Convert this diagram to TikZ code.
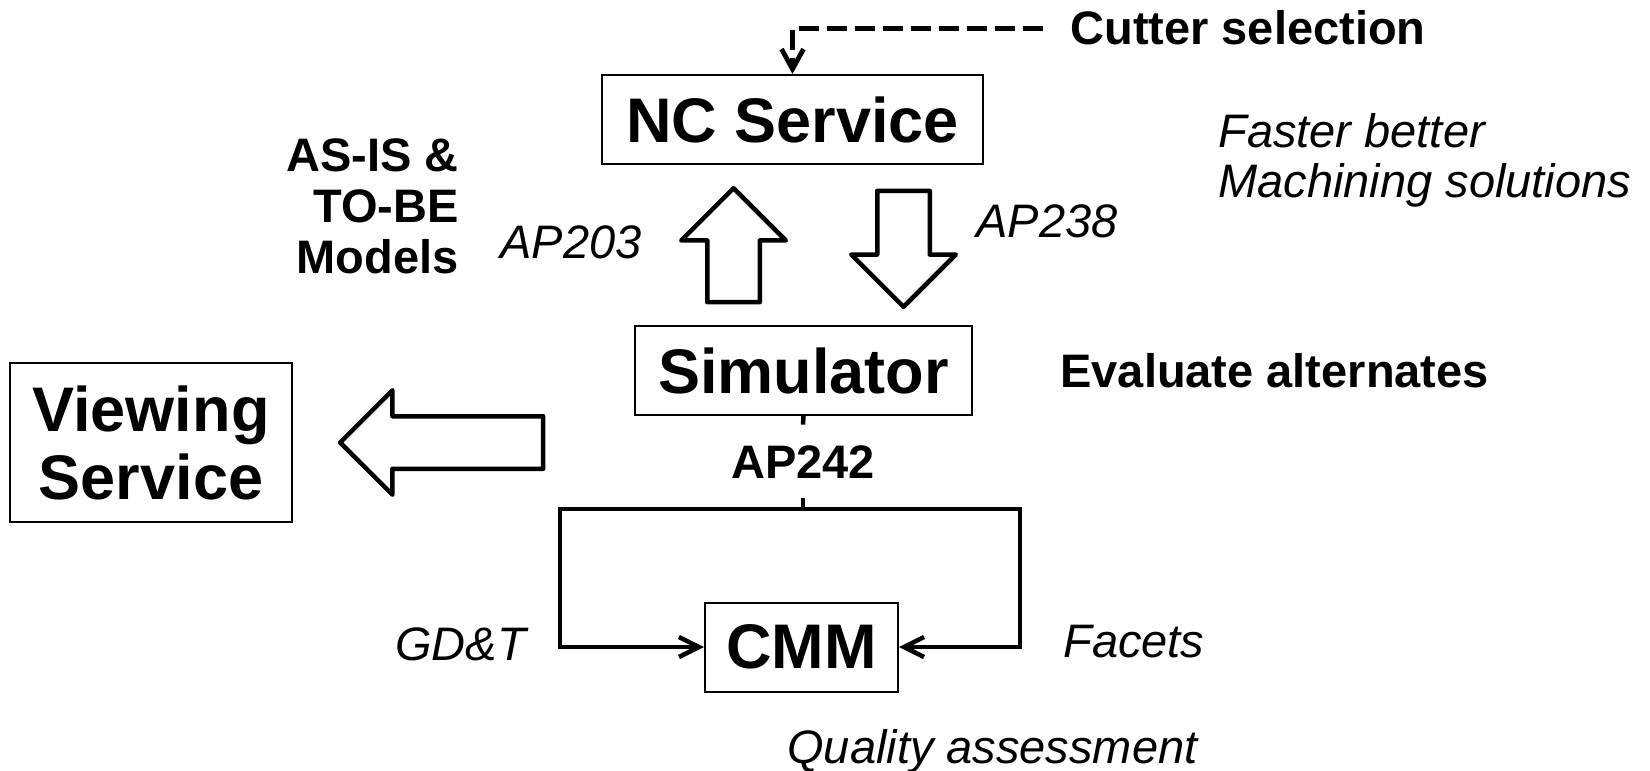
\documentclass[tikz,border=0pt]{standalone}
\usepackage{fontspec}
\setmainfont{Liberation Sans}
\usetikzlibrary{positioning,shapes.arrows,arrows.meta}

\begin{document}
\begin{tikzpicture}[
  x=0.5pt, y=-0.5pt,
  box/.style={
    rectangle,
    draw=black,
    line width=1pt,
    inner sep=0pt,
    minimum height=44.5pt,
    font=\fontsize{31.5pt}{34pt}\selectfont\bfseries
  },
  boldlbl/.style={inner sep=0pt, font=\fontsize{23.5pt}{25.5pt}\selectfont\bfseries},
  itlbl/.style={inner sep=0pt, font=\fontsize{23.5pt}{25pt}\selectfont\itshape},
  fatarrow/.style={single arrow, draw=black, line width=2.25pt, line join=round,
    inner xsep=0pt, inner ysep=12pt, single arrow head extend=13pt, anchor=tip},
  feed/.style={line width=2.25pt, -{Straight Barb[length=10pt,width=10pt]}},
  cutdash/.style={line width=2.4pt, dash pattern=on 10pt off 4pt,
    -{Straight Barb[length=10pt,width=11pt]}}
]
\useasboundingbox (0,0) rectangle (1650,771);

% Service boxes
\node[box, minimum width=190.5pt] (nc) at (792.5,119.5) {NC Service};
\node[box, minimum width=168.5pt] (sim) at (803.5,370.5) {Simulator};
\node[box, minimum width=96.5pt] (cmm) at (801.5,647) {CMM};
\node[box, minimum width=141pt, minimum height=79.5pt, align=center] (view) at (151,442.5) {Viewing\\Service};

% Block arrows
\node[fatarrow, rotate=90, minimum height=57pt] (up203) at (733.5,185) {};
\node[fatarrow, rotate=-90, minimum height=58pt] (down238) at (903.5,310) {};
\node[fatarrow, rotate=180, minimum height=101.5pt] (toview) at (337,442.5) {};

% Labels
\node[boldlbl, anchor=east, align=right] (models) at (459,206.5) {AS-IS \&\\TO-BE\\Models};
\node[itlbl, anchor=base west] (ap203) at (500,258) {AP203};
\node[itlbl, anchor=base west] (ap238) at (976,237) {AP238};
\node[itlbl, anchor=west, align=left] (faster) at (1218,160) {Faster better\\Machining solutions};
\node[boldlbl, anchor=base west] (evaluate) at (1060,387) {Evaluate alternates};
\node[boldlbl, inner xsep=13.5pt, anchor=base west] (cutter) at (1043,45) {Cutter selection};
\node[boldlbl, text height=17pt, text depth=0pt, inner ysep=9.75pt] (ap242) at (803,461.5) {AP242};
\node[itlbl, anchor=base west] (gdt) at (395,660) {GD\&T};
\node[itlbl, anchor=base west] (facets) at (1063,657) {Facets};
\node[itlbl, anchor=base west] (quality) at (787,763) {Quality assessment};

% Connectors
\coordinate (split) at (803,509);
\coordinate (lcorner) at (560,509);
\coordinate (rcorner) at (1020,509);
\draw[line width=2.25pt] (sim.south) -- (ap242.north);
\draw[line width=2.25pt] (ap242.south) -- (split);
\draw[feed] (split) -- (lcorner) |- (cmm.west);
\draw[feed] (split) -- (rcorner) |- (cmm.east);
\draw[cutdash] (cutter.west) -| (nc.north);

\end{tikzpicture}
\end{document}
